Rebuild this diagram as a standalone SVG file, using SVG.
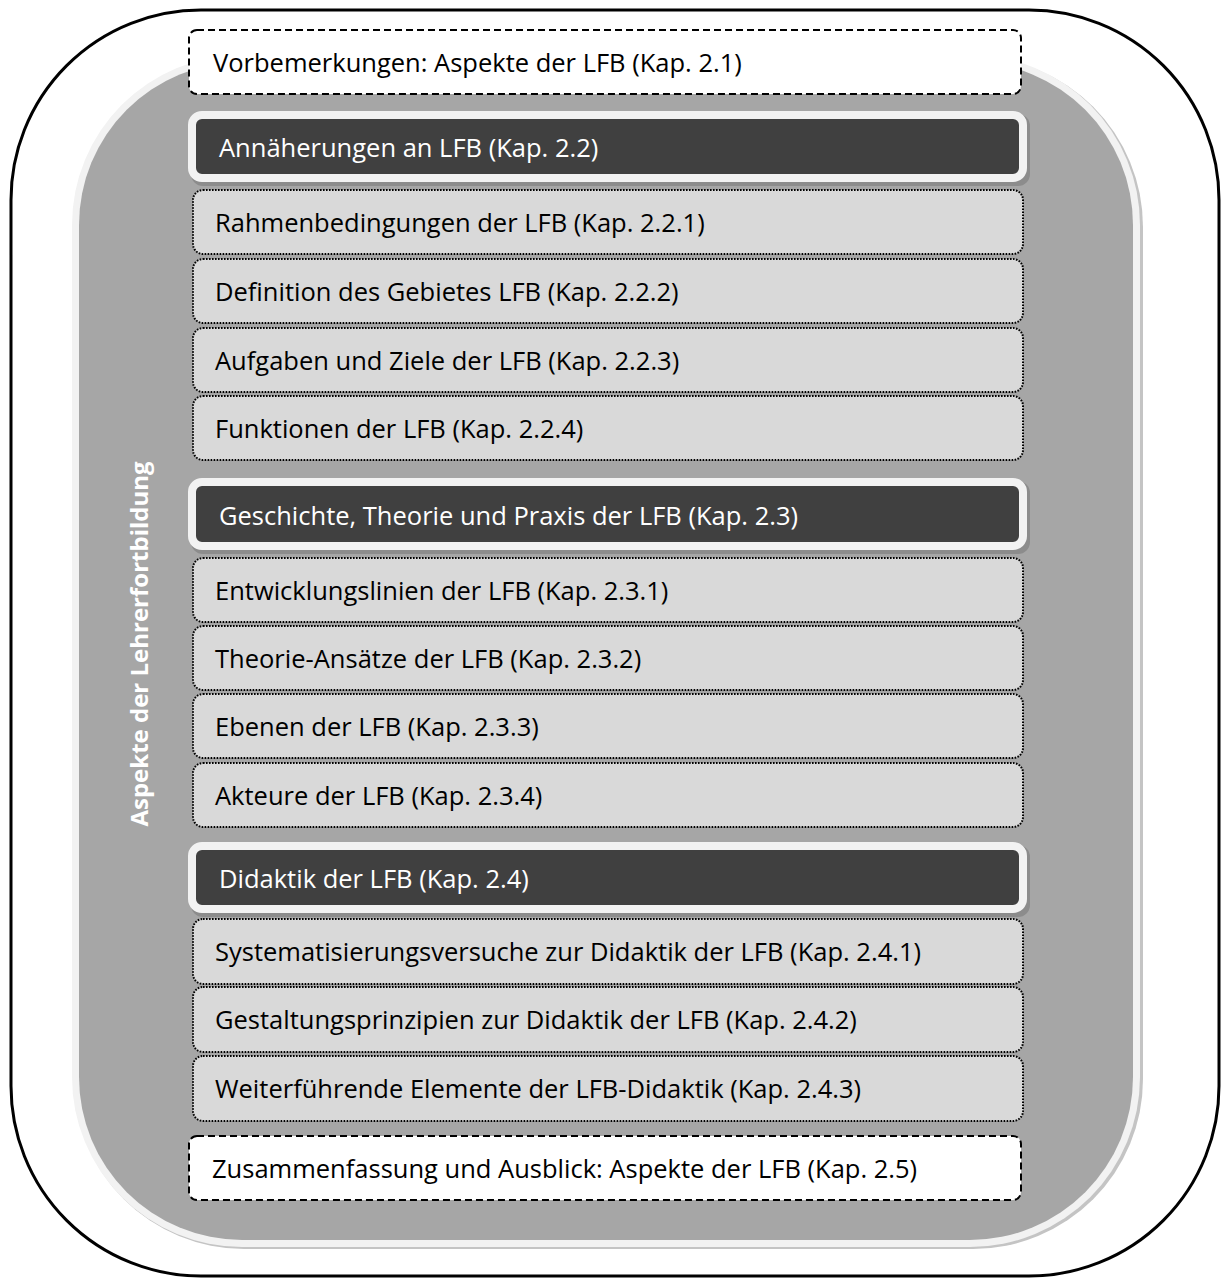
<svg xmlns="http://www.w3.org/2000/svg" width="1224" height="1278" viewBox="0 0 1224 1278">
  <style>
    text { font-family: "Open Sans", "Noto Sans", "DejaVu Sans", sans-serif; font-size: 25.5px; }
    .lbl { fill: #000000; }
    .hlbl { fill: #ffffff; }
    .side { fill: #ffffff; font-weight: bold; font-size: 24px; }
    .item { fill: #d9d9d9; stroke: #000000; stroke-width: 2; stroke-dasharray: 1.6 1.4; }
    .note { fill: #ffffff; stroke: #000000; stroke-width: 2; stroke-dasharray: 7 4; }
    .head { fill: #404040; stroke: #f2f2f2; stroke-width: 8; }
    .headshadow { fill: #8c8c8c; }
  </style>

  <!-- outer frame -->
  <g id="frame">
    <rect x="11" y="10" width="1208" height="1266" rx="190" ry="190" fill="#ffffff" stroke="#000000" stroke-width="3"/>
  </g>

  <!-- grey panel carrying all chapters -->
  <g id="panel">
    <rect x="74" y="57" width="1069" height="1192" rx="170" ry="170" fill="#c4c4c4"/>
    <rect x="72" y="55" width="1068" height="1192" rx="170" ry="170" fill="#f2f2f2"/>
    <rect x="79" y="62" width="1054" height="1178" rx="163" ry="163" fill="#a6a6a6"/>
    <text class="side" transform="translate(148,644) rotate(-90)" text-anchor="middle">Aspekte der Lehrerfortbildung</text>
  </g>

  <g id="n-2-1">
    <rect class="note" x="189" y="30" width="832" height="64" rx="8"/>
    <text class="lbl" x="213" y="72">Vorbemerkungen: Aspekte der LFB (Kap. 2.1)</text>
  </g>

  <g id="n-2-2">
    <rect class="headshadow" x="191" y="114" width="839" height="72" rx="12"/>
    <rect class="head" x="192" y="115" width="831" height="63" rx="10"/>
    <text class="hlbl" x="219" y="157">Annäherungen an LFB (Kap. 2.2)</text>
  </g>
  <g id="n-2-2-1">
    <rect class="item" x="193" y="190" width="830" height="64" rx="10"/>
    <text class="lbl" x="215" y="232">Rahmenbedingungen der LFB (Kap. 2.2.1)</text>
  </g>
  <g id="n-2-2-2">
    <rect class="item" x="193" y="259" width="830" height="64" rx="10"/>
    <text class="lbl" x="215" y="301">Definition des Gebietes LFB (Kap. 2.2.2)</text>
  </g>
  <g id="n-2-2-3">
    <rect class="item" x="193" y="328" width="830" height="64" rx="10"/>
    <text class="lbl" x="215" y="370">Aufgaben und Ziele der LFB (Kap. 2.2.3)</text>
  </g>
  <g id="n-2-2-4">
    <rect class="item" x="193" y="396" width="830" height="64" rx="10"/>
    <text class="lbl" x="215" y="438">Funktionen der LFB (Kap. 2.2.4)</text>
  </g>

  <g id="n-2-3">
    <rect class="headshadow" x="191" y="481" width="839" height="73" rx="12"/>
    <rect class="head" x="192" y="482" width="831" height="64" rx="10"/>
    <text class="hlbl" x="219" y="525">Geschichte, Theorie und Praxis der LFB (Kap. 2.3)</text>
  </g>
  <g id="n-2-3-1">
    <rect class="item" x="193" y="558" width="830" height="64" rx="10"/>
    <text class="lbl" x="215" y="600">Entwicklungslinien der LFB (Kap. 2.3.1)</text>
  </g>
  <g id="n-2-3-2">
    <rect class="item" x="193" y="626" width="830" height="64" rx="10"/>
    <text class="lbl" x="215" y="668">Theorie-Ansätze der LFB (Kap. 2.3.2)</text>
  </g>
  <g id="n-2-3-3">
    <rect class="item" x="193" y="694" width="830" height="64" rx="10"/>
    <text class="lbl" x="215" y="736">Ebenen der LFB (Kap. 2.3.3)</text>
  </g>
  <g id="n-2-3-4">
    <rect class="item" x="193" y="763" width="830" height="64" rx="10"/>
    <text class="lbl" x="215" y="805">Akteure der LFB (Kap. 2.3.4)</text>
  </g>

  <g id="n-2-4">
    <rect class="headshadow" x="191" y="845" width="839" height="72" rx="12"/>
    <rect class="head" x="192" y="846" width="831" height="63" rx="10"/>
    <text class="hlbl" x="219" y="888">Didaktik der LFB (Kap. 2.4)</text>
  </g>
  <g id="n-2-4-1">
    <rect class="item" x="193" y="919" width="830" height="65" rx="10"/>
    <text class="lbl" x="215" y="961">Systematisierungsversuche zur Didaktik der LFB (Kap. 2.4.1)</text>
  </g>
  <g id="n-2-4-2">
    <rect class="item" x="193" y="987" width="830" height="65" rx="10"/>
    <text class="lbl" x="215" y="1029">Gestaltungsprinzipien zur Didaktik der LFB (Kap. 2.4.2)</text>
  </g>
  <g id="n-2-4-3">
    <rect class="item" x="193" y="1056" width="830" height="65" rx="10"/>
    <text class="lbl" x="215" y="1098">Weiterführende Elemente der LFB-Didaktik (Kap. 2.4.3)</text>
  </g>

  <g id="n-2-5">
    <rect class="note" x="189" y="1136" width="832" height="64" rx="8"/>
    <text class="lbl" x="212" y="1178">Zusammenfassung und Ausblick: Aspekte der LFB (Kap. 2.5)</text>
  </g>
</svg>
